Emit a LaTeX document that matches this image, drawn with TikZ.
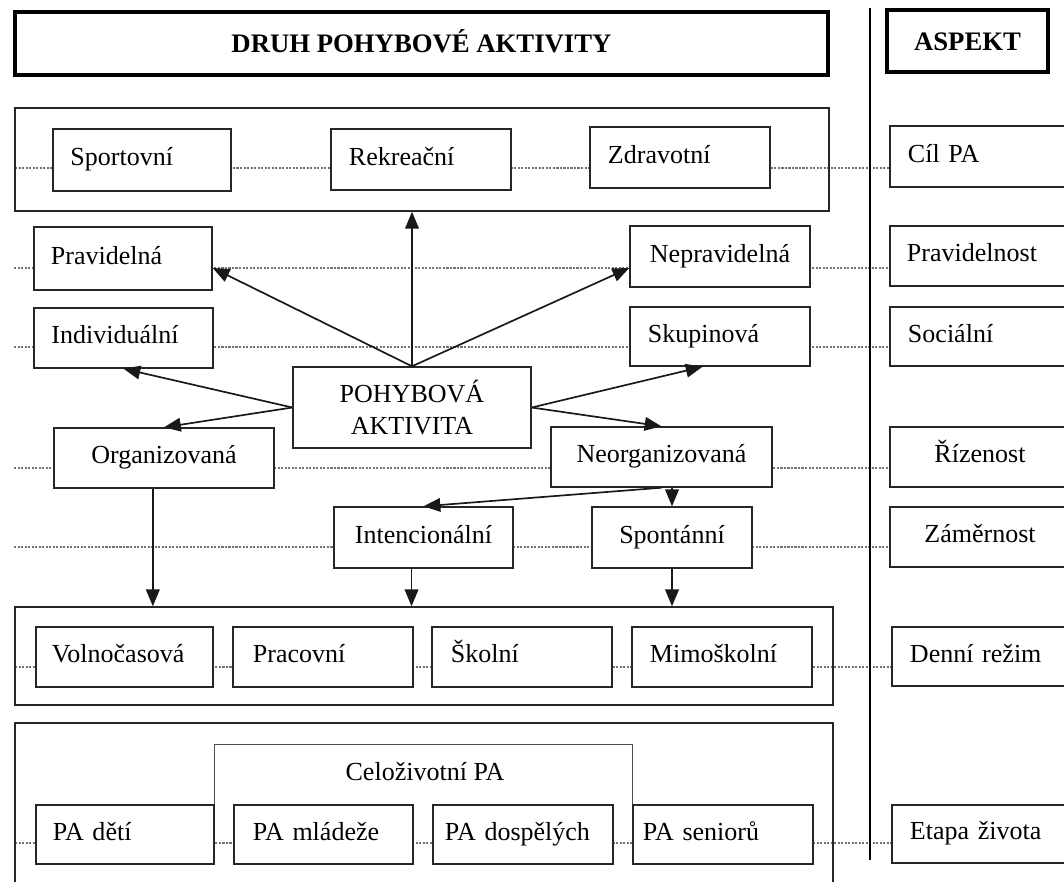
\documentclass[tikz,border=0pt]{standalone}
\usepackage{fontspec}
\setmainfont{Liberation Serif}
\usetikzlibrary{arrows.meta,backgrounds}
\newcommand\cellfont{\fontsize{18.5}{22.8}\selectfont}
\newcommand\headfont{\fontsize{19}{23}\selectfont\bfseries}
\begin{document}
\begin{tikzpicture}[x=0.025cm,y=-0.025cm,
  base/.style={draw=black!85,fill=white,line width=1pt,inner sep=0pt,font=\cellfont},
  cell/.style={base,align=left,text height=12.5pt,text depth=4.5pt},
  ccell/.style={base,align=center,text height=12.5pt,text depth=4.5pt},
  mid/.style={base,align=center},
  grp/.style={draw=black!85,line width=1pt,inner sep=0pt},
  head/.style={draw=black,line width=2.6pt,inner sep=0pt,font=\headfont,text height=13pt,text depth=0pt},
  dotrow/.style={black!55,line width=0.9pt,dash pattern=on 1.5pt off 1pt},
  arr/.style={draw=black!90,line width=1.2pt,-{Triangle[length=0.42cm,width=0.34cm]}}]
\useasboundingbox (0,0) rectangle (1064,881);
\clip (0,0) rectangle (1064,881);
\node[head,minimum width=20.325cm,minimum height=1.575cm] (druh) at (421.5,43.5) {DRUH POHYBOVÉ AKTIVITY};
\node[head,minimum width=4.025cm,minimum height=1.55cm] (aspekt) at (967.5,41) {ASPEKT};
\coordinate (septop) at (870,8);
\coordinate (sepbot) at (870,860);
\draw[line width=1pt] (septop) -- (sepbot);
\node[grp,minimum width=20.35cm,minimum height=2.575cm] (grpcil) at (422,159.5) {};
\node[grp,minimum width=20.45cm,minimum height=2.45cm] (grprezim) at (424,656) {};
\node[grp,minimum width=20.45cm,minimum height=4.425cm] (grpetapa) at (424,811.5) {};
\node[cell,minimum width=4.45cm,minimum height=1.55cm,text width=3.575cm] (sport) at (142,160) {Sportovní};
\node[cell,minimum width=4.5cm,minimum height=1.525cm,text width=3.6cm] (rekr) at (421,159.5) {Rekreační};
\node[cell,minimum width=4.5cm,minimum height=1.525cm,text width=3.6cm] (zdrav) at (680,157.5) {Zdravotní};
\node[cell,minimum width=4.5cm,minimum height=1.525cm,text width=3.6cm] (cil) at (980,156.5) {Cíl PA};
\node[cell,minimum width=4.45cm,minimum height=1.575cm,text width=3.6cm] (prav) at (123,258.5) {Pravidelná};
\node[ccell,minimum width=4.5cm,minimum height=1.525cm] (neprav) at (720,256.5) {Nepravidelná};
\node[cell,minimum width=4.5cm,minimum height=1.5cm,text width=3.65cm] (pravn) at (980,256) {Pravidelnost};
\node[cell,minimum width=4.475cm,minimum height=1.5cm,text width=3.6cm] (indiv) at (123.5,338) {Individuální};
\node[cell,minimum width=4.5cm,minimum height=1.475cm,text width=3.6cm] (skup) at (720,336.5) {Skupinová};
\node[cell,minimum width=4.5cm,minimum height=1.475cm,text width=3.6cm] (soc) at (980,336.5) {Sociální};
\node[mid,minimum width=5.95cm,minimum height=2.025cm] (pa) at (412,407.5) {POHYBOVÁ\\AKTIVITA};
\node[ccell,minimum width=5.5cm,minimum height=1.5cm] (org) at (164,458) {Organizovaná};
\node[ccell,minimum width=5.525cm,minimum height=1.5cm] (neorg) at (661.5,457) {Neorganizovaná};
\node[ccell,minimum width=4.5cm,minimum height=1.5cm] (riz) at (980,457) {Řízenost};
\node[ccell,minimum width=4.475cm,minimum height=1.525cm] (intenc) at (423.5,537.5) {Intencionální};
\node[ccell,minimum width=4cm,minimum height=1.525cm] (spont) at (672,537.5) {Spontánní};
\node[ccell,minimum width=4.5cm,minimum height=1.5cm] (zamer) at (980,537) {Záměrnost};
\node[cell,minimum width=4.425cm,minimum height=1.5cm,text width=3.625cm] (volno) at (124.5,657) {Volnočasová};
\node[cell,minimum width=4.5cm,minimum height=1.5cm,text width=3.5cm] (prac) at (323,657) {Pracovní};
\node[cell,minimum width=4.5cm,minimum height=1.5cm,text width=3.55cm] (skol) at (522,657) {Školní};
\node[cell,minimum width=4.5cm,minimum height=1.5cm,text width=3.6cm] (mimo) at (722,657) {Mimoškolní};
\node[cell,minimum width=4.5cm,minimum height=1.475cm,text width=3.6cm] (denni) at (982,656.5) {Denní režim};
\node[cell,minimum width=4.45cm,minimum height=1.475cm,text width=3.6cm] (deti) at (125,834.5) {PA dětí};
\node[cell,minimum width=4.475cm,minimum height=1.475cm,text width=3.525cm] (mladez) at (323.5,834.5) {PA mládeže};
\node[cell,minimum width=4.5cm,minimum height=1.475cm,text width=3.9cm] (dosp) at (523,834.5) {PA dospělých};
\node[cell,minimum width=4.5cm,minimum height=1.475cm,text width=4cm] (senior) at (723,834.5) {PA seniorů};
\node[cell,minimum width=4.5cm,minimum height=1.45cm,text width=3.6cm] (etapa) at (982,834) {Etapa života};
\draw[line width=0.8pt,black!70] (deti.north east) -- ++(0,-60) -| (senior.north west);
\node[font=\cellfont,inner sep=0pt] (celo) at (425,772) {Celoživotní PA};
\coordinate (rcil) at (15,168);
\coordinate (rprav) at (14,268);
\coordinate (rsoc) at (14,347);
\coordinate (rriz) at (14,468);
\coordinate (rzamer) at (14,547);
\coordinate (rrezim) at (15,667);
\coordinate (retapa) at (15,843);
\begin{scope}[on background layer]
\fill[white] (0,0) rectangle (1064,881);
\draw[dotrow] (rcil) -- (cil.west |- rcil);
\draw[dotrow] (rprav) -- (pravn.west |- rprav);
\draw[dotrow] (rsoc) -- (soc.west |- rsoc);
\draw[dotrow] (rriz) -- (riz.west |- rriz);
\draw[dotrow] (rzamer) -- (zamer.west |- rzamer);
\draw[dotrow] (rrezim) -- (denni.west |- rrezim);
\draw[dotrow] (retapa) -- (etapa.west |- retapa);
\end{scope}
\coordinate (orgdown) at (org.-110);
\coordinate (intdown) at (intenc.-111);
\draw[arr] (pa.north) -- (pa.north |- grpcil.south);
\draw[arr] (pa.north) -- (prav.east |- rprav);
\draw[arr] (pa.north) -- (neprav.west |- rprav);
\draw[arr] (pa.west) -- (indiv.south);
\draw[arr] (pa.west) -- (org.north);
\draw[arr] (pa.east) -- (skup.-120);
\draw[arr] (pa.east) -- (neorg.north);
\draw[arr] (neorg.south) -- (intenc.north);
\draw[arr] (spont.north |- neorg.south) -- (spont.north);
\draw[arr] (orgdown) -- (orgdown |- grprezim.north);
\draw[arr] (intdown) -- (intdown |- grprezim.north);
\draw[arr] (spont.south) -- (spont.south |- grprezim.north);
\end{tikzpicture}
\end{document}
